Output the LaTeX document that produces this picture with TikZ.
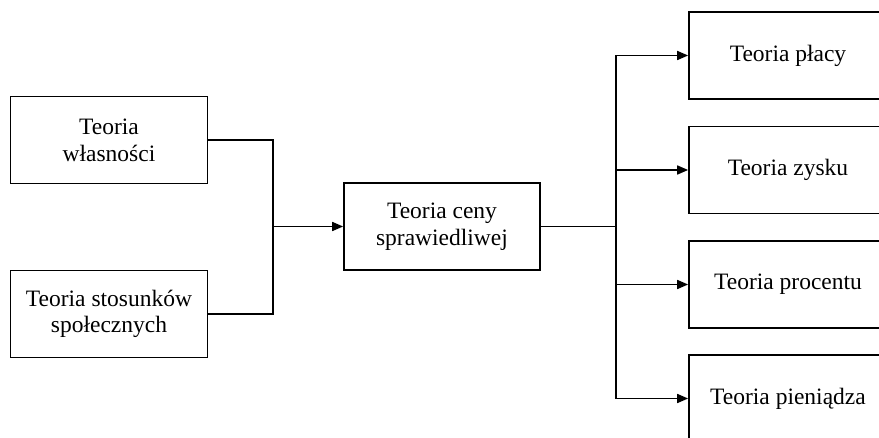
\documentclass[tikz,border=0pt]{standalone}
\usepackage{fontspec}
\setmainfont{Liberation Serif}
\usetikzlibrary{arrows.meta}
\begin{document}
\begin{tikzpicture}[x=1pt,y=-1pt,
  box/.style={draw,line width=1.7pt,minimum width=197pt,minimum height=87pt,
    align=center,inner sep=0pt,font=\fontsize{23.5}{26.7}\selectfont},
  link/.style={line width=1.7pt},
  arr/.style={link,-{Triangle[length=11pt,width=9pt]}}]
\useasboundingbox (0,0) rectangle (879,438);
\clip (0,0) rectangle (879,438);
% sources
\node[box] (wl) at (109,140) {Teoria\\własności};
\node[box] (st) at (109,314) {Teoria stosunków\\społecznych};
% centre
\node[box,minimum width=196pt] (cena) at (442,226.5) {Teoria ceny\\sprawiedliwej};
% outcomes
\node[box,minimum width=198pt] (placa) at (788,55.5) {Teoria płacy};
\node[box,minimum width=198pt] (zysk) at (788,170) {Teoria zysku};
\node[box,minimum width=198pt] (proc) at (788,284.5) {Teoria procentu};
\node[box,minimum width=198pt] (pien) at (788,398.5) {Teoria pieniądza};
% junctions
\coordinate (jl) at (273,226.5);
\coordinate (jr) at (616,226.5);
\draw[link] (wl.east) -| (jl);
\draw[link] (st.east) -| (jl);
\draw[arr] (jl) -- (cena.west);
\draw[link] (cena.east) -- (jr);
\draw[arr] (jr) |- (placa.west);
\draw[arr] (jr) |- (zysk.west);
\draw[arr] (jr) |- (proc.west);
\draw[arr] (jr) |- (pien.west);
\end{tikzpicture}
\end{document}
